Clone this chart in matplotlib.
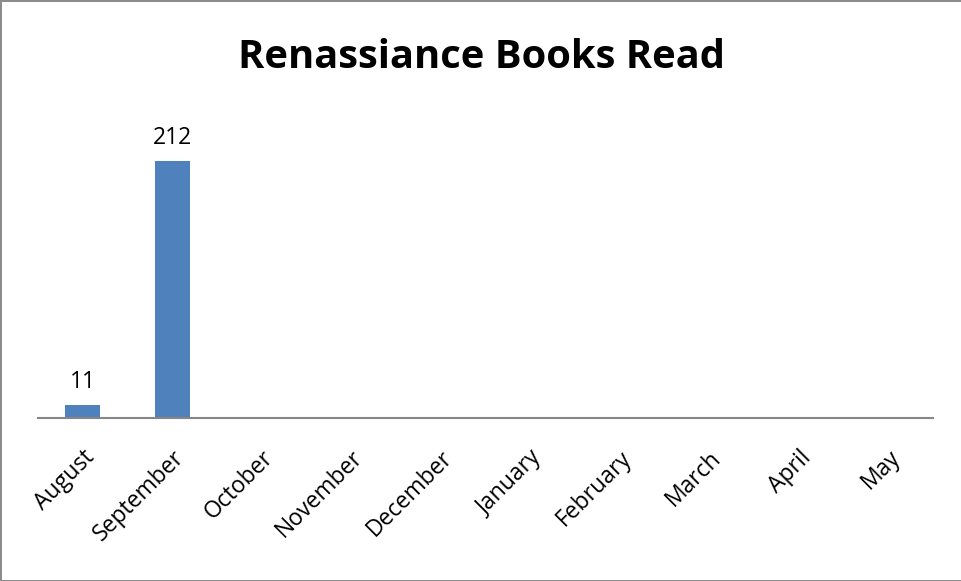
import matplotlib.pyplot as plt

months = ['August', 'September', 'October', 'November', 'December',
          'January', 'February', 'March', 'April', 'May']
books = [11, 212, 0, 0, 0, 0, 0, 0, 0, 0]

plt.rcParams['font.family'] = ['Open Sans', 'DejaVu Sans']

W, H = 962, 581
fig = plt.figure(figsize=(W / 100, H / 100), dpi=100)
fig.patch.set_edgecolor('#8c8c8c')
fig.patch.set_linewidth(2)

ax = fig.add_axes([38 / W, (H - 418) / H, (933 - 38) / W, (418 - 115) / H])
x = range(len(months))
bars = ax.bar(x, books, width=0.39, color='#4f81bd')

# data labels only for the months that have a value
for i, v in enumerate(books):
    if v > 0:
        ax.text(i, v + 9, str(v), ha='center', va='bottom', fontsize=16.5)

ax.set_xlim(-0.5, len(months) - 0.5)
ax.set_ylim(0, 250)
ax.set_yticks([])
for side in ['top', 'right', 'left']:
    ax.spines[side].set_visible(False)
ax.spines['bottom'].set_color('#868686')
ax.spines['bottom'].set_linewidth(1.5)

ax.set_xticks(list(x))
ax.set_xticklabels(months, rotation=45, ha='right', rotation_mode='anchor', fontsize=16.5)
ax.tick_params(axis='x', length=0, pad=20)

fig.text(482 / W, 1 - 57 / H, 'Renassiance Books Read', ha='center', va='center',
         fontsize=28.7, fontweight='bold')

fig.savefig('out.png', dpi=100, edgecolor=fig.get_edgecolor())
